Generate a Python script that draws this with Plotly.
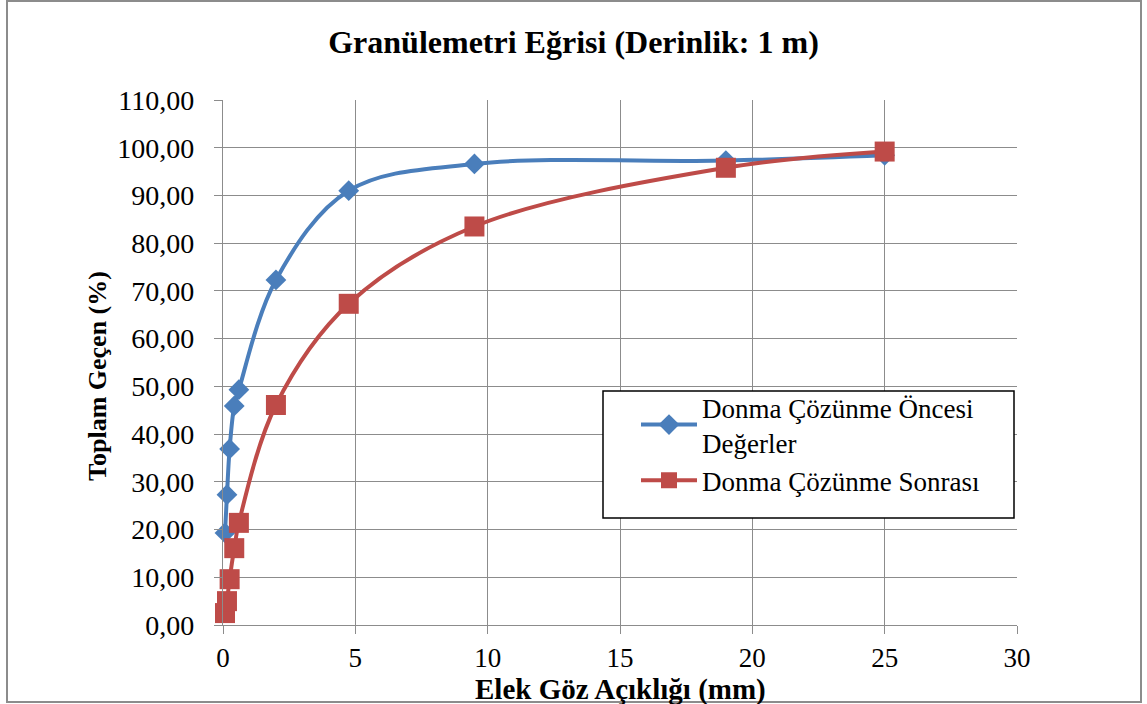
import plotly.graph_objects as go

sieve_mm = [0.075, 0.15, 0.25, 0.425, 0.6, 2.0, 4.75, 9.5, 19.0, 25.0]
before = [19.3, 27.3, 36.9, 45.9, 49.3, 72.3, 91.0, 96.6, 97.3, 98.4]
after = [2.5, 5.0, 9.6, 16.1, 21.4, 46.1, 67.3, 83.5, 95.8, 99.2]

name_before = "Donma Çözünme Öncesi<br>Değerler"
name_after = "Donma Çözünme Sonrası"
title_text = "Granülemetri Eğrisi (Derinlik: 1 m)"
x_title = "Elek Göz Açıklığı (mm)"
y_title = "Toplam Geçen (%)"

FONT = "Liberation Serif"
W, H = 1147, 704
L, R, T, B = 223, 130, 100, 79
PW, PH = W - L - R, H - T - B

def px(xp):
    return (xp - L) / PW

def py(yp):
    return (H - B - yp) / PH

fig = go.Figure()
fig.add_trace(go.Scatter(
    x=sieve_mm, y=before, name=name_before, mode="lines+markers",
    line=dict(color="#4A7EBB", width=4, shape="spline", smoothing=1.0),
    marker=dict(symbol="diamond", size=16, color="#4A7EBB"),
    cliponaxis=False,
))
fig.add_trace(go.Scatter(
    x=sieve_mm, y=after, name=name_after, mode="lines+markers",
    line=dict(color="#BE4B48", width=4, shape="spline", smoothing=1.0),
    marker=dict(symbol="square", size=20, color="#BE4B48"),
    cliponaxis=False,
))

fig.update_layout(
    width=W, height=H,
    margin=dict(l=L, r=R, t=T, b=B),
    paper_bgcolor="white", plot_bgcolor="white",
    separators=",.",
    font=dict(family=FONT, size=28, color="black"),
    title=dict(text="<b>" + title_text + "</b>", x=0.5, xref="container",
               y=1 - 42 / H, yref="container", yanchor="middle",
               font=dict(family=FONT, size=32, color="black")),
    showlegend=True,
    legend=dict(x=px(636), y=py(383), xanchor="left", yanchor="top",
                bgcolor="rgba(0,0,0,0)", borderwidth=0,
                font=dict(family=FONT, size=27, color="black"),
                itemwidth=56, tracegroupgap=0),
    xaxis=dict(range=[0, 30], dtick=5, tick0=0,
               showgrid=True, gridcolor="#8C8C8C", gridwidth=1.3,
               showline=True, linecolor="#8C8C8C", linewidth=1.3,
               ticks="outside", ticklen=8, tickcolor="#8C8C8C",
               tickfont=dict(family=FONT, size=27),
               zeroline=False, mirror=False),
    yaxis=dict(range=[0, 110], dtick=10, tick0=0, tickformat=".2f",
               showgrid=True, gridcolor="#8C8C8C", gridwidth=1.3,
               showline=True, linecolor="#8C8C8C", linewidth=1.3,
               ticks="outside", ticklen=8, tickcolor="#8C8C8C",
               tickfont=dict(family=FONT, size=28),
               ticklabelstandoff=14,
               zeroline=False),
    annotations=[
        dict(text="<b>" + x_title + "</b>", xref="paper", yref="paper",
             x=px(620), y=py(689), xanchor="center", yanchor="middle",
             showarrow=False, font=dict(family=FONT, size=29, color="black")),
        dict(text="<b>" + y_title + "</b>", xref="paper", yref="paper",
             x=px(97), y=py(376), xanchor="center", yanchor="middle",
             textangle=-90, showarrow=False,
             font=dict(family=FONT, size=26, color="black")),
    ],
    shapes=[
        dict(type="rect", xref="paper", yref="paper",
             x0=px(603), x1=px(1014), y0=py(391), y1=py(518),
             fillcolor="white", line=dict(color="black", width=1.5),
             layer="above"),
        dict(type="rect", xref="paper", yref="paper",
             x0=px(7), x1=px(1141), y0=py(1), y1=py(702),
             fillcolor="rgba(0,0,0,0)", line=dict(color="#8C8C8C", width=2),
             layer="above"),
    ],
)

fig.write_html("out.html")
